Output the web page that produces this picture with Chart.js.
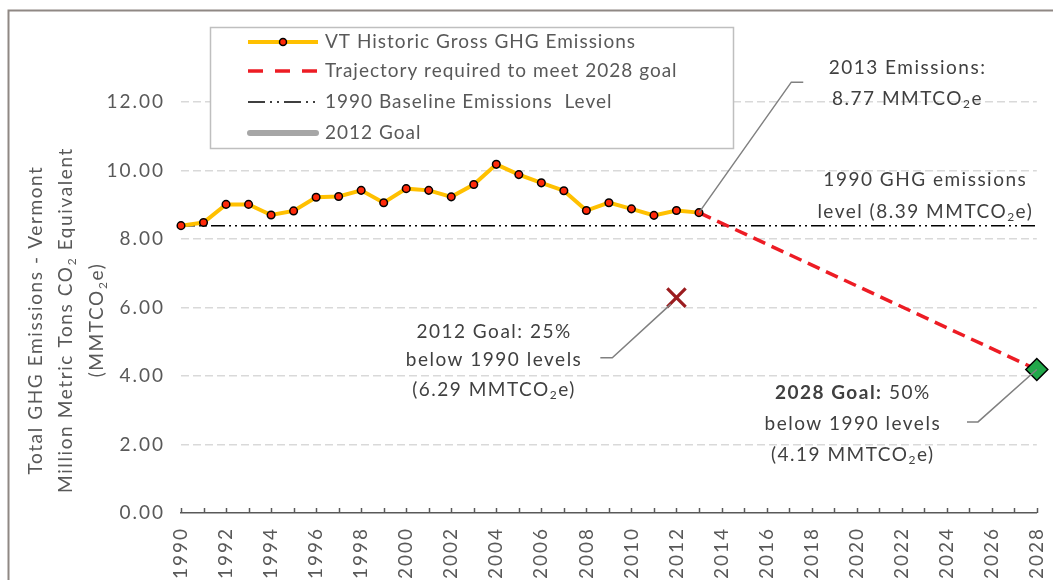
<!DOCTYPE html>
<html>
<head>
<meta charset="utf-8">
<script src="https://cdn.jsdelivr.net/npm/chart.js@4/dist/chart.umd.min.js"></script>
<style>
  html, body { margin: 0; padding: 0; background: #ffffff; }
  #wrap { width: 1053px; height: 580px; position: relative; overflow: hidden; }
</style>
</head>
<body>
<div id="wrap"><canvas id="c" width="1053" height="580"></canvas></div>
<script>
// ---------------- DATA ----------------
const years = ['1990','1991','1992','1993','1994','1995','1996','1997','1998','1999',
               '2000','2001','2002','2003','2004','2005','2006','2007','2008','2009',
               '2010','2011','2012','2013','2014','2015','2016','2017','2018','2019',
               '2020','2021','2022','2023','2024','2025','2026','2027','2028'];
// VT Historic Gross GHG Emissions, 1990-2013 (MMTCO2e)
const historic = [8.39, 8.48, 9.01, 9.01, 8.70, 8.82, 9.22, 9.24, 9.42, 9.06,
                  9.47, 9.42, 9.23, 9.59, 10.18, 9.88, 9.64, 9.41, 8.83, 9.06,
                  8.88, 8.69, 8.83, 8.77];
// Trajectory required to meet 2028 goal (endpoints)
const trajectoryYears = ['2013', '2028'];
const trajectoryValues = [8.77, 4.19];
// 1990 baseline emissions level (spans full axis)
const baselineYears = ['1990', '2028'];
const baselineValues = [8.39, 8.39];
// Goals
const goal2012Year = '2012';
const goal2012Value = 6.29;
const goal2028Year = '2028';
const goal2028Value = 4.19;
// Y axis ticks
const yTicks = [0, 2, 4, 6, 8, 10, 12];
// Series names
const seriesNames = ['VT Historic Gross GHG Emissions',
                     'Trajectory required to meet 2028 goal',
                     '1990 Baseline Emissions  Level',
                     '2012 Goal',
                     '2028 Goal'];

// ---------------- STYLE ----------------
const FONT = "Lato, 'Liberation Sans', Arial, sans-serif";
const TICK_COLOR = '#595959';
const NOTE_COLOR = '#404040';

Chart.defaults.font.family = FONT;
Chart.defaults.color = TICK_COLOR;

function drawRich(ctx, segs, x, y, size, color, spacing) {
  ctx.save();
  ctx.letterSpacing = spacing + 'px';
  ctx.fillStyle = color;
  ctx.textBaseline = 'middle';
  ctx.textAlign = 'left';
  const fontFor = s => (s.bold ? 'bold ' : '') + (s.sub ? Math.round(size * 0.65) : size) + 'px ' + FONT;
  let total = 0;
  const widths = segs.map(s => { ctx.font = fontFor(s); const w = ctx.measureText(s.t).width; total += w; return w; });
  let cx = x - total / 2;
  segs.forEach((s, i) => {
    ctx.font = fontFor(s);
    ctx.fillText(s.t, cx, s.sub ? y + size * 0.3 : y);
    cx += widths[i];
  });
  ctx.restore();
}

// Annotations (positions given in data space: x = category index, y = value)
const notes = [
  { lines: [[{t:'2013 Emissions:'}], [{t:'8.77 MMTCO'},{t:'2',sub:true},{t:'e'}]],
    x: 32.26, y: [13.0, 12.1], leader: [[27.63, 12.58], [27.1, 12.58], [23, 8.77]] },
  { lines: [[{t:'1990 GHG emissions'}], [{t:'level (8.39 MMTCO'},{t:'2',sub:true},{t:'e)'}]],
    x: 33.05, y: [9.74, 8.80], leader: null },
  { lines: [[{t:'2012 Goal: 25%'}], [{t:'below 1990 levels'}], [{t:'(6.29 MMTCO'},{t:'2',sub:true},{t:'e)'}]],
    x: 13.9, y: [5.29, 4.47, 3.60], leader: [[18.62, 4.53], [19.15, 4.53], [21.75, 6.10]] },
  { lines: [[{t:'2028 Goal:',bold:true},{t:' 50%'}], [{t:'below 1990 levels'}], [{t:'(4.19 MMTCO'},{t:'2',sub:true},{t:'e)'}]],
    x: 29.83, y: [3.51, 2.60, 1.70], leader: [[34.9, 2.66], [35.39, 2.66], [38, 4.19]] }
];

const overlay = {
  id: 'overlay',
  beforeDraw(chart) {
    chart.ctx.letterSpacing = '2px';
  },
  afterDraw(chart) {
    const ctx = chart.ctx;
    const xs = chart.scales.x, ys = chart.scales.y;
    const area = chart.chartArea;

    // inside tick marks on x axis
    ctx.save();
    ctx.strokeStyle = TICK_COLOR;
    ctx.lineWidth = 1.5;
    for (let i = 0; i < years.length; i++) {
      const px = Math.round(xs.getPixelForValue(i)) + 0.5;
      ctx.beginPath();
      ctx.moveTo(px, area.bottom);
      ctx.lineTo(px, area.bottom - 5);
      ctx.stroke();
    }
    ctx.restore();

    // outer chart border (top and left visible)
    ctx.save();
    ctx.strokeStyle = '#8f8884';
    ctx.lineWidth = 2;
    ctx.beginPath();
    ctx.moveTo(8.5, 600);
    ctx.lineTo(8.5, 10.5);
    ctx.lineTo(1060, 10.5);
    ctx.stroke();
    ctx.restore();

    // y axis title
    const titleLines = [
      [{t:'Total GHG Emissions - Vermont'}],
      [{t:'Million Metric Tons CO'},{t:'2',sub:true},{t:' Equivalent'}],
      [{t:'(MMTCO'},{t:'2',sub:true},{t:'e)'}]
    ];
    const titleX = [36, 66, 97];
    titleLines.forEach((ln, i) => {
      ctx.save();
      ctx.translate(titleX[i], 320);
      ctx.rotate(-Math.PI / 2);
      drawRich(ctx, ln, 0, 0, 19, TICK_COLOR, 1.6);
      ctx.restore();
    });

    // legend box
    ctx.save();
    ctx.fillStyle = '#ffffff';
    ctx.fillRect(210, 27, 523, 121);
    ctx.strokeStyle = '#bfbfbf';
    ctx.lineWidth = 1.5;
    ctx.strokeRect(210.5, 27.5, 523, 121);
    const rowY = [42, 71, 102, 133];
    const x0 = 248, x1 = 318;
    // sample 1
    ctx.lineCap = 'butt';
    ctx.strokeStyle = '#FFC000'; ctx.lineWidth = 4; ctx.setLineDash([]);
    ctx.beginPath(); ctx.moveTo(x0, rowY[0]); ctx.lineTo(x1, rowY[0]); ctx.stroke();
    ctx.fillStyle = '#FF2A0A'; ctx.strokeStyle = '#000'; ctx.lineWidth = 1.5;
    ctx.beginPath(); ctx.arc((x0 + x1) / 2, rowY[0], 3.5, 0, Math.PI * 2); ctx.fill(); ctx.stroke();
    // sample 2
    ctx.strokeStyle = '#ED1C24'; ctx.lineWidth = 3.5; ctx.setLineDash([15, 12]);
    ctx.beginPath(); ctx.moveTo(x0, rowY[1]); ctx.lineTo(x1 + 2, rowY[1]); ctx.stroke();
    // sample 3
    ctx.strokeStyle = '#000'; ctx.lineWidth = 1.5; ctx.setLineDash([17, 5, 2, 5, 2, 5]);
    ctx.beginPath(); ctx.moveTo(x0, rowY[2]); ctx.lineTo(x1, rowY[2]); ctx.stroke();
    // sample 4
    ctx.setLineDash([]); ctx.lineCap = 'round';
    ctx.strokeStyle = '#A6A6A6'; ctx.lineWidth = 6;
    ctx.beginPath(); ctx.moveTo(x0 + 2, rowY[3]); ctx.lineTo(x1 - 2, rowY[3]); ctx.stroke();
    ctx.restore();
    for (let i = 0; i < 4; i++) {
      ctx.save();
      ctx.letterSpacing = '1px';
      ctx.font = '19px ' + FONT;
      ctx.fillStyle = TICK_COLOR;
      ctx.textBaseline = 'middle';
      ctx.textAlign = 'left';
      ctx.fillText(chart.data.datasets[i].label, 325, rowY[i]);
      ctx.restore();
    }

    // annotations
    notes.forEach(n => {
      if (n.leader) {
        ctx.save();
        ctx.strokeStyle = '#808080';
        ctx.lineWidth = 1.5;
        ctx.beginPath();
        n.leader.forEach((p, j) => {
          const px = xs.getPixelForValue(p[0]), py = ys.getPixelForValue(p[1]);
          if (j === 0) ctx.moveTo(px, py); else ctx.lineTo(px, py);
        });
        ctx.stroke();
        ctx.restore();
      }
      const cx = xs.getPixelForValue(n.x);
      n.lines.forEach((ln, j) => {
        drawRich(ctx, ln, cx, ys.getPixelForValue(n.y[j]), 19, NOTE_COLOR, 1.5);
      });
    });
  }
};

new Chart(document.getElementById('c'), {
  type: 'line',
  data: {
    labels: years,
    datasets: [
      { label: seriesNames[0], data: historic, borderColor: '#FFC000', borderWidth: 4,
        pointRadius: 3.8, pointBackgroundColor: '#FF2A0A', pointBorderColor: '#000000',
        pointBorderWidth: 1.5, order: 1, clip: false },
      { label: seriesNames[1], data: trajectoryYears.map((y, i) => ({ x: y, y: trajectoryValues[i] })),
        borderColor: '#ED1C24', borderWidth: 3.5, borderDash: [13, 7], pointRadius: 0, order: 2, clip: false },
      { label: seriesNames[2], data: baselineYears.map((y, i) => ({ x: y, y: baselineValues[i] })),
        borderColor: '#000000', borderWidth: 1.5, borderDash: [14, 4, 2, 4, 2, 4], pointRadius: 0, order: 3, clip: false },
      { label: seriesNames[3], data: [{ x: goal2012Year, y: goal2012Value }], showLine: false,
        pointStyle: 'crossRot', pointRadius: 13, pointBorderColor: '#9B1C1F', pointBorderWidth: 3.2,
        borderColor: '#9B1C1F', order: 0, clip: false },
      { label: seriesNames[4], data: [{ x: goal2028Year, y: goal2028Value }], showLine: false,
        pointStyle: 'rectRot', pointRadius: 11, pointBackgroundColor: '#21A84A', pointBorderColor: '#000000',
        pointBorderWidth: 1.5, borderColor: '#000000', order: 0, clip: false }
    ]
  },
  options: {
    responsive: false,
    animation: false,
    events: [],
    layout: { padding: { top: 102, right: 11, left: 0, bottom: 0 } },
    plugins: { legend: { display: false }, tooltip: { enabled: false }, title: { display: false } },
    scales: {
      x: {
        type: 'category',
        offset: false,
        afterFit: s => { s.height = 67; s.paddingLeft = 0; s.paddingRight = 0; },
        grid: { display: false, drawTicks: false },
        border: { display: true, color: TICK_COLOR, width: 1.5 },
        ticks: {
          autoSkip: false, maxRotation: 90, minRotation: 90, padding: 14,
          color: TICK_COLOR, font: { size: 19 },
          callback: (v, i) => (i % 2 === 0 ? years[i] : '')
        }
      },
      y: {
        min: yTicks[0], max: yTicks[yTicks.length - 1],
        afterFit: s => { s.width = 181; s.paddingTop = 0; s.paddingBottom = 0; },
        afterBuildTicks: s => { s.ticks = yTicks.map(v => ({ value: v })); },
        grid: { drawTicks: false, lineWidth: 1.5,
                color: c => (c.tick && c.tick.value === 0 ? 'rgba(0,0,0,0)' : '#D9D9D9') },
        border: { display: false, dash: [8, 4] },
        ticks: { padding: 16, color: TICK_COLOR, font: { size: 19 },
                 callback: v => Number(v).toFixed(2) }
      }
    }
  },
  plugins: [overlay]
});
</script>
</body>
</html>
